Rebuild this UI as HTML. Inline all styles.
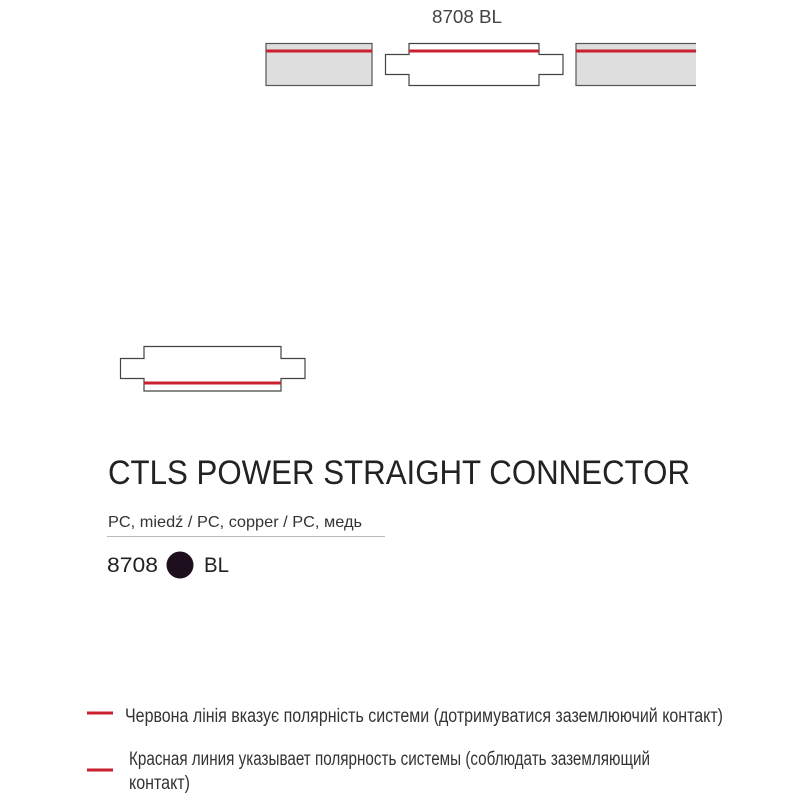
<!DOCTYPE html>
<html><head><meta charset="utf-8"><style>html,body{margin:0;padding:0;background:#fff}svg{display:block}</style></head>
<body>
<svg width="800" height="800" viewBox="0 0 800 800" xmlns="http://www.w3.org/2000/svg" font-family="Liberation Sans, sans-serif">
<rect width="800" height="800" fill="#fff"/>
<text x="432" y="23" font-size="18" fill="#444" textLength="70" lengthAdjust="spacingAndGlyphs">8708 BL</text>
<!-- left rail -->
<rect x="266" y="43.5" width="106" height="42" fill="#dedede" stroke="#555" stroke-width="1.2"/>
<line x1="266" y1="51" x2="372" y2="51" stroke="#c8202e" stroke-width="3"/>
<!-- right rail -->
<rect x="576" y="43.5" width="130" height="42" fill="#dedede" stroke="#555" stroke-width="1.2"/>
<line x1="576" y1="51" x2="696" y2="51" stroke="#c8202e" stroke-width="3"/>
<rect x="696" y="38" width="20" height="52" fill="#fff"/>
<!-- top connector -->
<path d="M409 43.5 H539 V54.5 H563 V74.5 H539 V85.5 H409 V74.5 H385.5 V54.5 H409 Z" fill="#fff" stroke="#444" stroke-width="1.2"/>
<line x1="409" y1="51" x2="539" y2="51" stroke="#c8202e" stroke-width="3"/>
<!-- lower connector -->
<path d="M144 346.5 H281 V358.5 H305 V378.5 H281 V391 H144 V378.5 H120.5 V358.5 H144 Z" fill="#fff" stroke="#444" stroke-width="1.2"/>
<line x1="144" y1="383" x2="281" y2="383" stroke="#c8202e" stroke-width="3"/>
<!-- title -->
<text x="108" y="484" font-size="34" fill="#222" textLength="582" lengthAdjust="spacingAndGlyphs">CTLS POWER STRAIGHT CONNECTOR</text>
<text x="108" y="527" font-size="16" fill="#333" textLength="254" lengthAdjust="spacingAndGlyphs">PC, miedź / PC, copper / PC, медь</text>
<line x1="107" y1="536.5" x2="385" y2="536.5" stroke="#bbb" stroke-width="1"/>
<text x="107" y="572" font-size="21" fill="#222" textLength="51" lengthAdjust="spacingAndGlyphs">8708</text>
<circle cx="180" cy="565" r="13.5" fill="#1e0f1e"/>
<text x="204" y="572" font-size="21" fill="#222" textLength="25" lengthAdjust="spacingAndGlyphs">BL</text>
<!-- legend -->
<line x1="87" y1="713" x2="113" y2="713" stroke="#c8202e" stroke-width="3"/>
<text x="125" y="722" font-size="19" fill="#333" textLength="598" lengthAdjust="spacingAndGlyphs">Червона лінія вказує полярність системи (дотримуватися заземлюючий контакт)</text>
<line x1="87" y1="770" x2="113" y2="770" stroke="#c8202e" stroke-width="3"/>
<text x="129" y="765" font-size="19" fill="#333" textLength="521" lengthAdjust="spacingAndGlyphs">Красная линия указывает полярность системы (соблюдать заземляющий</text>
<text x="129" y="789" font-size="19" fill="#333" textLength="61" lengthAdjust="spacingAndGlyphs">контакт)</text>
</svg>
</body></html>
